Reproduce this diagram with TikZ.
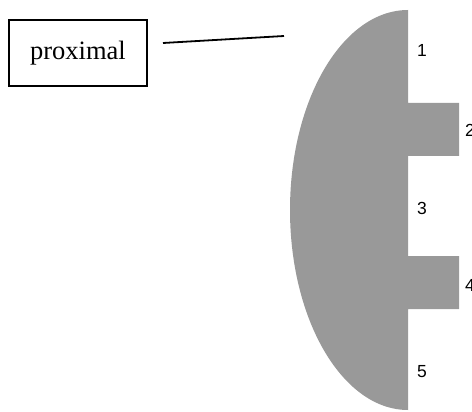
\documentclass[tikz,border=0pt]{standalone}
\usepackage{fontspec}
\setmainfont{Liberation Serif}
\setsansfont{Liberation Sans}
\definecolor{partgrey}{HTML}{999999}
\begin{document}
\begin{tikzpicture}[x=1pt,y=-1pt,
  labelbox/.style={draw=black,line width=1.6pt,minimum width=138pt,minimum height=66pt,
    inner sep=0pt,font=\fontsize{26.5}{30}\selectfont},
  zonenum/.style={font=\sffamily\fontsize{17.5}{20}\selectfont,inner sep=0pt},
  leader/.style={draw=black,line width=1.8pt}]
  \useasboundingbox (0,0) rectangle (472,412);
  % half-ellipse body with two rectangular tabs on the flat side
  \fill[partgrey] (408,10) arc[start angle=270,end angle=90,x radius=118,y radius=200]
    -- (408,309) -- (459,309) -- (459,256) -- (408,256)
    -- (408,156) -- (459,156) -- (459,103) -- (408,103) -- cycle;
  % zone numbers
  \node[zonenum] (n1) at (422,50) {1};
  \node[zonenum] (n2) at (470,130) {2};
  \node[zonenum] (n3) at (422,208) {3};
  \node[zonenum] (n4) at (470,285) {4};
  \node[zonenum] (n5) at (422,372) {5};
  % caption box and its leader line
  \node[labelbox] (prox) at (78,53) {proximal};
  \coordinate (leadA) at (163,43);
  \coordinate (leadB) at (284,36);
  \draw[leader] (leadA) -- (leadB);
\end{tikzpicture}
\end{document}
